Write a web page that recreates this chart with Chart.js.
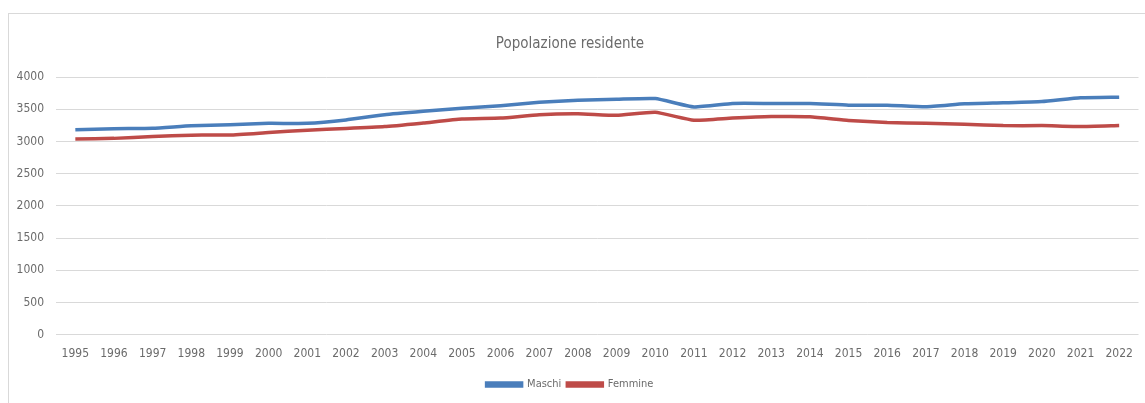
<!DOCTYPE html>
<html>
<head>
<meta charset="utf-8">
<script src="https://cdn.jsdelivr.net/npm/chart.js@4"></script>
<style>
  html, body { margin: 0; padding: 0; background: #fff; }
  body { width: 1145px; height: 403px; position: relative; overflow: hidden; }
  #frame {
    position: absolute; left: 8px; top: 13px; width: 1160px; height: 420px;
    border: 1px solid #d9d9d9; box-sizing: border-box;
  }
  #wrap { position: absolute; left: 0; top: 0; width: 1145px; height: 403px; }
</style>
</head>
<body>
<div id="frame"></div>
<div id="wrap"><canvas id="popChart"></canvas></div>
<script>
// Popolazione residente, maschi / femmine per anno
const years = ['1995', '1996', '1997', '1998', '1999', '2000', '2001', '2002', '2003', '2004',
  '2005', '2006', '2007', '2008', '2009', '2010', '2011', '2012', '2013', '2014',
  '2015', '2016', '2017', '2018', '2019', '2020', '2021', '2022'];
const maschi = [3180, 3198, 3205, 3243, 3258, 3280, 3280, 3333, 3415, 3468,
  3515, 3555, 3608, 3640, 3655, 3665, 3535, 3589, 3589, 3589,
  3562, 3562, 3538, 3583, 3599, 3618, 3677, 3687];
const femmine = [3036, 3047, 3076, 3097, 3099, 3138, 3175, 3200, 3230, 3286,
  3346, 3362, 3415, 3430, 3406, 3452, 3328, 3362, 3385, 3382,
  3325, 3292, 3281, 3266, 3245, 3245, 3230, 3245];
const yTicks = [0, 500, 1000, 1500, 2000, 2500, 3000, 3500, 4000];

const FONT = "'DejaVu Sans Condensed', 'DejaVu Sans', sans-serif";
const TEXT = '#6b6b6b';

const canvas = document.getElementById('popChart');

new Chart(canvas, {
  type: 'line',
  data: {
    labels: years,
    datasets: [{
      label: 'Maschi',
      data: maschi,
      borderColor: '#4a7ebb',
      backgroundColor: '#4a7ebb',
      borderWidth: 3.5,
      tension: 0.15,
      pointRadius: 0,
      fill: false
    }, {
      label: 'Femmine',
      data: femmine,
      borderColor: '#be4b48',
      backgroundColor: '#be4b48',
      borderWidth: 3.5,
      tension: 0.15,
      pointRadius: 0,
      fill: false
    }]
  },
  options: {
    responsive: true,
    maintainAspectRatio: false,
    animation: false,
    layout: { padding: { top: 35, right: 5, left: 0, bottom: 3 } },
    plugins: {
      title: {
        display: true,
        text: 'Popolazione residente',
        color: TEXT,
        font: { family: FONT, size: 15, weight: 'normal' },
        padding: { top: 0, bottom: 24 }
      },
      legend: {
        position: 'bottom',
        labels: {
          color: TEXT,
          font: { family: FONT, size: 11 },
          boxWidth: 35,
          boxHeight: 3,
          padding: 6
        }
      },
      tooltip: { enabled: false }
    },
    scales: {
      x: {
        offset: true,
        grid: { display: false, drawTicks: false },
        border: { display: false },
        ticks: {
          color: TEXT,
          font: { family: FONT, size: 12 },
          padding: 12,
          maxRotation: 0,
          autoSkip: false
        }
      },
      y: {
        min: 0,
        max: 4000,
        afterBuildTicks: function (scale) {
          scale.ticks = yTicks.map(v => ({ value: v }));
        },
        afterFit: function (scale) { scale.width = 56; },
        grid: { color: '#d9d9d9', lineWidth: 1, drawTicks: false },
        border: { display: false },
        ticks: {
          color: TEXT,
          font: { family: FONT, size: 12 },
          padding: 12,
          callback: function (value) { return String(value); }
        }
      }
    }
  }
});
</script>
</body>
</html>
